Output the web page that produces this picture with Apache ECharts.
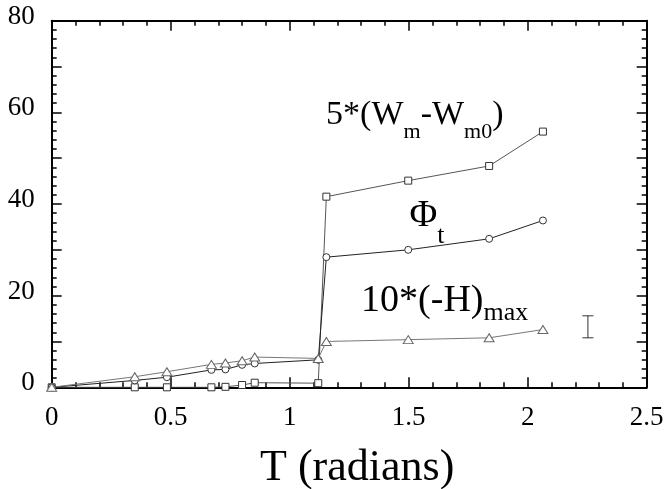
<!DOCTYPE html>
<html>
<head>
<meta charset="utf-8">
<script src="https://cdn.jsdelivr.net/npm/echarts@6/dist/echarts.min.js"></script>
<style>
  html, body { margin: 0; padding: 0; background: #fff; }
  #chart { width: 664px; height: 489px; }
</style>
</head>
<body>
<div id="chart"></div>
<script>
// values
const tW = [0, 0.349, 0.484, 0.671, 0.73, 0.80, 0.853, 1.12, 1.154, 1.498, 1.838, 2.064];
const wVals = [0, 0, 0, 0, 0.1, 0.5, 1.0, 0.9, 41.6, 45.1, 48.3, 55.8];

const tPhi = [0, 0.349, 0.484, 0.671, 0.73, 0.80, 0.853, 1.12, 1.154, 1.498, 1.838, 2.064];
const phiVals = [0, 1.5, 2.2, 3.8, 3.9, 4.9, 5.2, 6.0, 28.4, 30.0, 32.4, 36.4];

const tH = [0, 0.349, 0.484, 0.671, 0.73, 0.80, 0.853, 1.12, 1.154, 1.498, 1.838, 2.064];
const hVals = [0, 2.3, 3.4, 5.0, 5.3, 5.8, 6.6, 6.3, 10.0, 10.4, 10.8, 12.6];

const errT = [2.253];
const errLow = [10.8];
const errHigh = [15.6];

const serif = 'Liberation Serif';

function pairs(xs, ys) {
  return xs.map((x, i) => [x, ys[i]]);
}

const chart = echarts.init(document.getElementById('chart'));

const tickStyle = { color: '#000', width: 1.5 };
const lineStyle = { color: '#000', width: 2 };

// frame axis: line + inward ticks, no labels
function frameAxis(extra) {
  return Object.assign({
    type: 'value',
    axisLine: { onZero: false, lineStyle: lineStyle },
    axisTick: { inside: true, length: 10, lineStyle: tickStyle },
    minorTick: { show: true, splitNumber: 5, length: 5, lineStyle: tickStyle },
    splitLine: { show: false },
    axisLabel: { show: false }
  }, extra);
}

const option = {
  animation: false,
  backgroundColor: '#fff',
  grid: { left: 51.7, right: 17.3, top: 20.7, bottom: 101.7, outerBoundsMode: 'none', containLabel: false },
  xAxis: [
    frameAxis({
      min: 0, max: 2.5, interval: 0.5, position: 'bottom',
      axisLabel: { show: true, color: '#000', fontFamily: serif, fontSize: 27, margin: 17 },
      name: 'T (radians)', nameLocation: 'middle', nameGap: 59,
      nameTextStyle: { color: '#000', fontFamily: serif, fontSize: 44, padding: [0, 0, 0, 16] }
    }),
    frameAxis({ min: 0, max: 2.5, interval: 0.5, position: 'top' })
  ],
  yAxis: [
    frameAxis({
      min: 0, max: 80, interval: 10, position: 'left',
      axisLabel: {
        show: true, color: '#000', fontFamily: serif, fontSize: 27, margin: 17,
        verticalAlign: 'bottom', lineHeight: 8,
        formatter: v => (v % 20 === 0 ? String(v) : '')
      }
    }),
    frameAxis({ min: 0, max: 80, interval: 10, position: 'right' })
  ],
  series: [
    {
      name: 'W', type: 'line', data: pairs(tW, wVals),
      symbol: 'rect', symbolSize: 7,
      lineStyle: { color: '#555', width: 1 },
      itemStyle: { color: '#fff', borderColor: '#333', borderWidth: 1 }
    },
    {
      name: 'Phi', type: 'line', data: pairs(tPhi, phiVals),
      symbol: 'circle', symbolSize: 7,
      lineStyle: { color: '#222', width: 1 },
      itemStyle: { color: '#fff', borderColor: '#333', borderWidth: 1 }
    },
    {
      name: 'H', type: 'line', data: pairs(tH, hVals),
      symbol: 'triangle', symbolSize: [10, 8],
      lineStyle: { color: '#777', width: 1 },
      itemStyle: { color: '#fff', borderColor: '#666', borderWidth: 1 }
    },
    {
      name: 'err', type: 'custom',
      data: errT.map((t, i) => [t, errLow[i], errHigh[i]]),
      renderItem: function (params, api) {
        const lo = api.coord([api.value(0), api.value(1)]);
        const hi = api.coord([api.value(0), api.value(2)]);
        const w = 5.5;
        const st = { stroke: '#333', lineWidth: 1 };
        return {
          type: 'group',
          children: [
            { type: 'line', shape: { x1: lo[0], y1: lo[1], x2: hi[0], y2: hi[1] }, style: st },
            { type: 'line', shape: { x1: lo[0] - w, y1: lo[1], x2: lo[0] + w, y2: lo[1] }, style: st },
            { type: 'line', shape: { x1: hi[0] - w, y1: hi[1], x2: hi[0] + w, y2: hi[1] }, style: st }
          ]
        };
      }
    }
  ]
};

chart.setOption(option);

// curve labels, anchored in data units (left edge, baseline of the big text)
// lh sets how far the subscript drops below the baseline
function note(t, v, text, big, small, lh) {
  const p = chart.convertToPixel({ gridIndex: 0 }, [t, v]);
  const lift = lh / 2 + 0.34 * big;
  return {
    type: 'text', x: p[0], y: p[1] - lift, z: 10,
    style: {
      text: text,
      verticalAlign: 'top',
      rich: {
        n: { fontFamily: serif, fontSize: big, lineHeight: lh, fill: '#000', verticalAlign: 'middle' },
        s: { fontFamily: serif, fontSize: small, fill: '#000', verticalAlign: 'bottom' }
      }
    }
  };
}

chart.setOption({
  graphic: [
    note(1.153, 56.9, '{n|5*(W}{s|m}{n|-W}{s|m0}{n|)}', 34, 22, 56),
    note(1.503, 34.5, '{n|Φ}{s|t}', 38, 26, 66),
    note(1.30, 16.0, '{n|10*(-H)}{s|max}', 38, 26, 50)
  ]
});
</script>
</body>
</html>
